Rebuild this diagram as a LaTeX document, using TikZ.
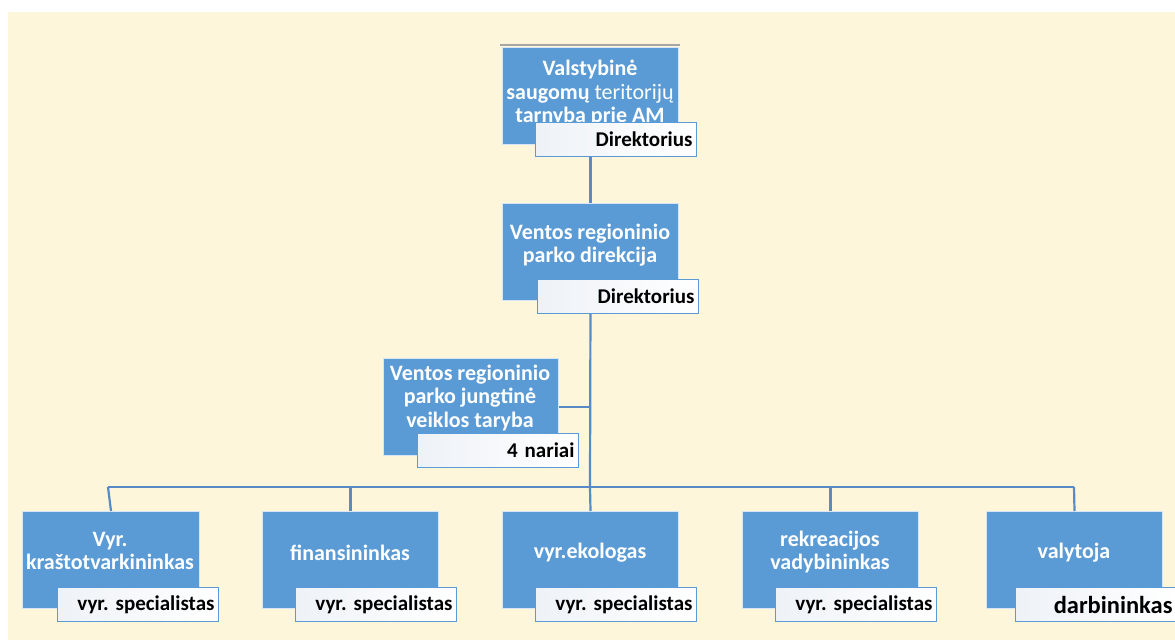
\documentclass[tikz,border=0pt]{standalone}
\usepackage{fontspec}
\setmainfont{Carlito}
\frenchspacing
\definecolor{cream}{HTML}{FDF6DA}
\definecolor{boxblue}{HTML}{5B9BD5}
\definecolor{linkblue}{HTML}{5A8AC6}
\definecolor{subfill}{HTML}{EEF2F7}
\begin{document}
\begin{tikzpicture}[x=1pt,y=-1pt,
  bluebox/.style={draw=white!75!boxblue, line width=1pt, fill=boxblue, anchor=north west,
    inner sep=0pt, minimum width=176pt, minimum height=97pt},
  subbox/.style={draw=boxblue, line width=1pt, left color=subfill, right color=white,
    anchor=north west, minimum height=34pt, inner xsep=4pt, inner ysep=0pt,
    align=right, text width=153pt, text=black, font=\fontsize{21}{24}\selectfont\bfseries},
  bluetext/.style={text=white, font=\fontsize{22}{23.5}\selectfont\bfseries, align=center, inner sep=0pt},
  link/.style={draw=linkblue, line width=2.2pt}
]
\useasboundingbox (0,0) rectangle (1175,640);
\fill[cream] (8,12) rectangle (1175,640);

% coordinates of the connector skeleton
\coordinate (spine) at (590,487);
\coordinate (busL) at (108,487);
\coordinate (busR) at (1074,487);

% blue boxes
\node[bluebox] (top) at (502,47) {};
\node[bluebox] (mid) at (502,203) {};
\node[bluebox, minimum width=175pt] (coun) at (383,358) {};
\node[bluebox, minimum width=177pt] (b1) at (22,511) {};
\node[bluebox] (b2) at (262,511) {};
\node[bluebox] (b3) at (502,511) {};
\node[bluebox] (b4) at (742,511) {};
\node[bluebox] (b5) at (986,511) {};

% connectors
\draw[link] (top.south) -- (mid.north);
\draw[link] (mid.south) -- (spine);
\draw[link] (busL) -- (busR);
\draw[link] (coun.east) -- (coun.east -| spine);
\draw[link] (busL) -- (b1.north);
\draw[link] (b2.north |- busL) -- (b2.north);
\draw[link] (spine) -- (b3.north);
\draw[link] (b4.north |- busL) -- (b4.north);
\draw[link] (busR) -- (b5.north);

\draw[gray!70, line width=1.2pt] (top.north west) ++(-2,-2) -- ++(180,0);

% texts in blue boxes
\node[bluetext] (toptext) at (590,93) {Valstybinė\\saugomų {\mdseries teritorijų}\\tarnyba prie AM};
\node[bluetext] (midtext) at (590,245) {Ventos regioninio\\parko direkcija};
\node[bluetext] (countext) at (470,398) {Ventos regioninio\\parko jungtinė\\veiklos taryba};
\node[bluetext] (b1text) at (110,551) {Vyr.\\kraštotvarkininkas};
\node[bluetext] (b2text) at (350,553) {finansininkas};
\node[bluetext] (b3text) at (590,553) {vyr.ekologas};
\node[bluetext] (b4text) at (830,552) {rekreacijos\\vadybininkas};
\node[bluetext] (b5text) at (1074,553) {valytoja};

% sub boxes
\node[subbox] (topsub) at (535,122) {Direktorius};
\node[subbox] (midsub) at (537,279) {Direktorius};
\node[subbox] (counsub) at (417,433) {4 nariai};
\node[subbox] (b1sub) at (57,587) {vyr. specialistas};
\node[subbox] (b2sub) at (295,587) {vyr. specialistas};
\node[subbox] (b3sub) at (535,587) {vyr. specialistas};
\node[subbox] (b4sub) at (775,587) {vyr. specialistas};
\node[subbox, font=\fontsize{24.5}{27}\selectfont\bfseries] (b5sub) at (1015,587) {darbininkas};
\end{tikzpicture}
\end{document}
